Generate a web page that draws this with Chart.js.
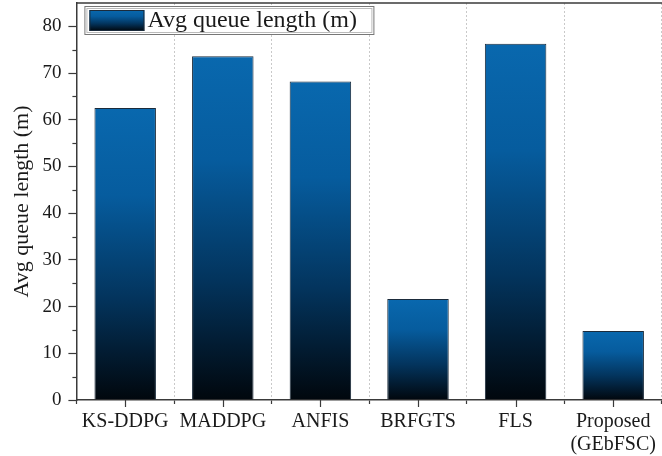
<!DOCTYPE html>
<html>
<head>
<meta charset="utf-8">
<script src="https://cdn.jsdelivr.net/npm/chart.js@4"></script>
<style>
  html, body { margin: 0; padding: 0; background: #fff; }
  #wrap { width: 662px; height: 456px; }
</style>
</head>
<body>
<div id="wrap"><canvas id="myChart" width="662" height="456"></canvas></div>
<script>
var categories = ["KS-DDPG", "MADDPG", "ANFIS", "BRFGTS", "FLS", ["Proposed", "(GEbFSC)"]];
var queueLength = [62.5, 73.6, 68.2, 21.6, 76.3, 14.8];
var yTicks = [0, 10, 20, 30, 40, 50, 60, 70, 80];
var seriesLabel = "Avg queue length (m)";

var serif = "'Liberation Serif', 'Times New Roman', serif";
var axisColor = "#3a3a3a";

function barGradient(ctx, top, bottom) {
  var g = ctx.createLinearGradient(0, top, 0, bottom);
  g.addColorStop(0, "#0968ae");
  g.addColorStop(0.3, "#065c9e");
  g.addColorStop(0.65, "#03345d");
  g.addColorStop(1, "#01070d");
  return g;
}

// legend box inside the plot, top border and short ticks
var decorations = {
  id: "decorations",
  afterDraw: function(chart) {
    var ctx = chart.ctx;
    var area = chart.chartArea;
    var x = chart.scales.x;
    var y = chart.scales.y;
    ctx.save();
    ctx.strokeStyle = axisColor;
    ctx.lineWidth = 1.5;
    // top frame line
    ctx.beginPath();
    ctx.moveTo(area.left, area.top);
    ctx.lineTo(area.right, area.top);
    ctx.stroke();
    // major x ticks at category centres
    ctx.lineWidth = 1.2;
    for (var i = 0; i < categories.length; i++) {
      var px = Math.round(x.getPixelForValue(i)) + 0.5;
      ctx.beginPath();
      ctx.moveTo(px, area.bottom);
      ctx.lineTo(px, area.bottom + 7);
      ctx.stroke();
    }
    // minor y ticks
    for (var v = 5; v < 85; v += 10) {
      var py = Math.round(y.getPixelForValue(v)) + 0.5;
      ctx.beginPath();
      ctx.moveTo(area.left - 4, py);
      ctx.lineTo(area.left, py);
      ctx.stroke();
    }
    // legend
    var lx = area.left + 8, ly = area.top + 3, lw = 289, lh = 28;
    ctx.fillStyle = "#fff";
    ctx.fillRect(lx, ly, lw, lh);
    ctx.strokeStyle = "#777";
    ctx.lineWidth = 1;
    ctx.strokeRect(lx + 0.5, ly + 0.5, lw, lh);
    ctx.strokeStyle = "#bbb";
    ctx.strokeRect(lx + 2.5, ly + 2.5, lw - 4, lh - 4);
    ctx.fillStyle = barGradient(ctx, ly + 4, ly + lh - 3);
    ctx.fillRect(lx + 5, ly + 4, 55, lh - 7);
    ctx.strokeStyle = "#1b2b3b";
    ctx.strokeRect(lx + 5.5, ly + 4.5, 54, lh - 8);
    ctx.fillStyle = "#1a1a1a";
    ctx.font = "24px " + serif;
    ctx.textBaseline = "middle";
    ctx.fillText(chart.data.datasets[0].label, lx + 63, ly + lh / 2 + 1);
    ctx.restore();
  }
};

var ctx = document.getElementById("myChart").getContext("2d");
var chart = new Chart(ctx, {
  type: "bar",
  data: {
    labels: categories,
    datasets: [
      {
        label: seriesLabel,
        data: queueLength,
        backgroundColor: function(context) {
          var c = context.chart;
          if (!c.chartArea || context.type !== "data") return "#0968ae";
          var ys = c.scales.y;
          return barGradient(c.ctx, ys.getPixelForValue(context.parsed.y), ys.getPixelForValue(0));
        },
        borderColor: "#1b2b3b",
        borderWidth: 1,
        barPercentage: 0.63,
        categoryPercentage: 1
      }
    ]
  },
  options: {
    responsive: false,
    animation: false,
    layout: { padding: { left: 9, right: 0, top: 3, bottom: 0 } },
    plugins: {
      legend: { display: false },
      tooltip: { enabled: false }
    },
    scales: {
      x: {
        offset: true,
        afterFit: function(scale) {
          scale.height = 56;
          scale.paddingBottom = 0;
        },
        grid: {
          offset: true,
          drawOnChartArea: true,
          color: "#c9c9c9",
          lineWidth: 1,
          tickLength: 4,
          tickColor: axisColor,
          tickWidth: 1.2
        },
        border: { display: true, color: axisColor, width: 1.5, dash: [2, 2] },
        ticks: {
          color: "#1a1a1a",
          font: { family: serif, size: 20, lineHeight: 1.15 },
          padding: 6,
          maxRotation: 0,
          autoSkip: false
        }
      },
      y: {
        min: 0,
        max: 85,
        afterBuildTicks: function(scale) {
          scale.ticks = yTicks.map(function(v) { return { value: v }; });
        },
        afterFit: function(scale) {
          scale.paddingTop = 0;
          scale.paddingBottom = 0;
        },
        grid: {
          drawOnChartArea: false,
          tickLength: 8,
          tickColor: axisColor,
          tickWidth: 1.2
        },
        border: { display: true, color: axisColor, width: 1.5 },
        ticks: {
          color: "#1a1a1a",
          font: { family: serif, size: 19 },
          padding: 7
        },
        title: {
          display: true,
          text: seriesLabel,
          color: "#1a1a1a",
          font: { family: serif, size: 22 },
          padding: { top: 0, bottom: 0 }
        }
      }
    }
  },
  plugins: [decorations]
});
</script>
</body>
</html>
